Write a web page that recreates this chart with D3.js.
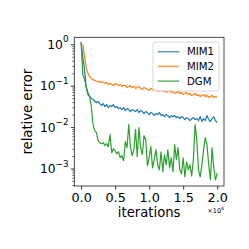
<!DOCTYPE html>
<html><head><meta charset="utf-8">
<script src="https://cdn.jsdelivr.net/npm/d3@7"></script>
<style>body{margin:0;background:#fff}svg{display:block}text{font-family:"DejaVu Sans",sans-serif;fill:#000}</style>
</head><body><svg id="c" width="249" height="249"></svg>
<script>
const step = 250;
const seriesNames = ["MIM1","MIM2","DGM"];
const colors = ["#1f77b4","#ff7f0e","#2ca02c"];
const mim1 = [1.12,0.484,0.248,0.0906,0.0613,0.0548,0.0491,0.0464,0.0427,0.0392,0.0415,0.0371,0.0332,0.0371,0.0314,0.0351,0.0297,0.0332,0.0314,0.0351,0.0297,0.0314,0.0281,0.0297,0.0265,0.0297,0.0251,0.0281,0.0265,0.0237,0.0265,0.0251,0.0237,0.0265,0.0224,0.0251,0.0237,0.0212,0.0237,0.0224,0.0201,0.0224,0.0212,0.0190,0.0212,0.0201,0.0224,0.0190,0.0201,0.0179,0.0201,0.0190,0.0170,0.0190,0.0179,0.0190,0.0170,0.0179,0.0160,0.0179,0.0170,0.0152,0.0170,0.0160,0.0143,0.0160,0.0170,0.0152,0.0160,0.0143,0.0179,0.0136,0.0160,0.0143,0.0190,0.0152,0.0136,0.0160,0.0179,0.0143,0.0128];
const mim2 = [null,1.0,0.512,0.277,0.198,0.167,0.150,0.142,0.134,0.130,0.127,0.120,0.127,0.120,0.113,0.120,0.107,0.113,0.107,0.101,0.113,0.107,0.101,0.107,0.0958,0.101,0.101,0.0906,0.0958,0.101,0.0906,0.0958,0.0857,0.0906,0.0958,0.0857,0.0811,0.0906,0.0857,0.0811,0.0767,0.0857,0.0811,0.0767,0.0811,0.0725,0.0767,0.0811,0.0725,0.0767,0.0686,0.0725,0.0767,0.0686,0.0725,0.0648,0.0686,0.0725,0.0648,0.0686,0.0613,0.0648,0.0686,0.0613,0.0648,0.0580,0.0613,0.0648,0.0580,0.0613,0.0548,0.0580,0.0613,0.0548,0.0580,0.0519,0.0548,0.0580,0.0519,0.0548,0.0519];
const dgm = [1.12,0.187,0.142,0.0958,0.0686,0.0548,0.0314,0.0115,0.00822,0.00735,0.00470,0.00421,0.00398,0.00421,0.00356,0.00398,0.00336,0.00657,0.00240,0.00301,0.00269,0.00227,0.00254,0.00182,0.00203,0.00154,0.00445,0.00318,0.0115,0.00336,0.00203,0.00284,0.00869,0.00192,0.00972,0.00318,0.00215,0.00621,0.00497,0.00116,0.00182,0.00336,0.00104,0.00163,0.00284,0.00123,0.000931,0.00254,0.000833,0.00215,0.00123,0.00284,0.00104,0.00182,0.000833,0.00376,0.00163,0.00318,0.000931,0.000745,0.00182,0.000630,0.00145,0.000931,0.00123,0.000666,0.00163,0.0115,0.00497,0.000931,0.000630,0.00123,0.00284,0.00556,0.00376,0.00123,0.000533,0.00318,0.00104,0.000533,0.000788];
const xTicks = [0,5000,10000,15000,20000];
const yMajor = [1,0.1,0.01,0.001];
const yExp = ["0","\u22121","\u22122","\u22123"];

const svg = d3.select("#c");
const L=74.3,R=224,T=37.3,B=186;
const x = d3.scaleLinear().domain([-1000,21000]).range([L,R]);
const y = d3.scaleLog().domain([Math.pow(10,-3.423),Math.pow(10,0.169)]).range([B,T]);

const all = [mim1,mim2,dgm];
const line = d3.line().defined(d=>d.v!=null).x(d=>x(d.i)).y(d=>y(d.v));
all.forEach((s,j)=>{
  const pts = s.map((v,k)=>({i:k*step,v}));
  svg.append("path").datum(pts).attr("d",line).attr("fill","none")
    .attr("stroke",colors[j]).attr("stroke-width",1.2).attr("stroke-linejoin","round");
});

// minor ticks
const minors=[];
for(let e=-4;e<=0;e++) for(let m=2;m<=9;m++){const v=m*Math.pow(10,e); if(v>=y.domain()[0]&&v<=y.domain()[1]) minors.push(v);}
svg.append("g").attr("transform",`translate(${L},0)`)
  .call(d3.axisLeft(y).tickValues(minors).tickSize(2).tickFormat(""))
  .call(g=>{g.select(".domain").remove(); g.selectAll("line").attr("stroke","#000").attr("stroke-width",0.6);});
const ya = svg.append("g").attr("transform",`translate(${L},0)`)
  .call(d3.axisLeft(y).tickValues(yMajor).tickSize(3.5).tickFormat(""));
ya.select(".domain").remove();
ya.selectAll("line").attr("stroke","#000").attr("stroke-width",0.8);
yMajor.forEach((v,k)=>{
  const t = svg.append("text").attr("x",68.5).attr("y",y(v)+4.6).attr("text-anchor","end");
  t.append("tspan").attr("font-size",12.3).text("10");
  t.append("tspan").attr("font-size",8.8).attr("dy",-6.5).text(yExp[k]);
});

const xa = svg.append("g").attr("transform",`translate(0,${B})`)
  .call(d3.axisBottom(x).tickValues(xTicks).tickSize(3.5).tickPadding(3).tickFormat(d=>(d/1e4).toFixed(1)));
xa.select(".domain").remove();
xa.selectAll("line").attr("stroke","#000").attr("stroke-width",0.8);
xa.selectAll("text").attr("font-size",12.8).attr("font-family","DejaVu Sans").attr("fill","#000");

svg.append("rect").attr("x",L).attr("y",T).attr("width",R-L).attr("height",B-T)
  .attr("fill","none").attr("stroke","#222").attr("stroke-width",0.8);

const off = svg.append("text").attr("x",R).attr("y",212.5).attr("text-anchor","end").attr("font-size",6.5);
off.append("tspan").text("\u00d710");
off.append("tspan").attr("font-size",4.6).attr("dy",-2.6).text("4");

svg.append("text").attr("x",(L+R)/2).attr("y",217).attr("text-anchor","middle").attr("font-size",13.2).text("iterations");
svg.append("text").attr("transform",`translate(31.5,${(T+B)/2}) rotate(-90)`).attr("text-anchor","middle").attr("font-size",13.2).text("relative error");

// legend
const lg = svg.append("g");
lg.append("rect").attr("x",153).attr("y",42).attr("width",66).attr("height",49).attr("rx",2.5)
  .attr("fill","#fff").attr("fill-opacity",0.8).attr("stroke","#cccccc").attr("stroke-width",0.8);
seriesNames.forEach((n,j)=>{
  const yy = 51.7 + j*14.7;
  lg.append("line").attr("x1",157.7).attr("x2",179.3).attr("y1",yy).attr("y2",yy)
    .attr("stroke",colors[j]).attr("stroke-width",1.5).attr("stroke-opacity",0.75);
  lg.append("text").attr("x",187).attr("y",yy+3.7).attr("font-size",10.2).text(n);
});
</script></body></html>
